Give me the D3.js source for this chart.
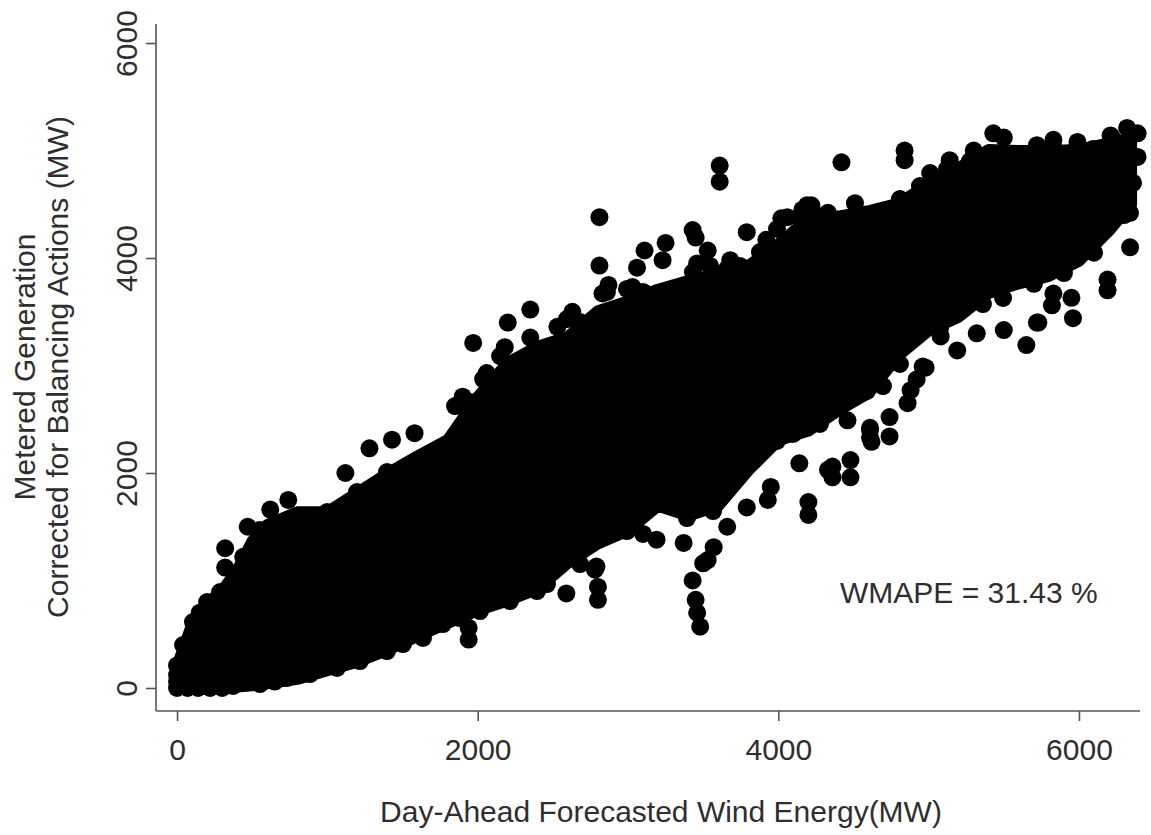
<!DOCTYPE html>
<html>
<head>
<meta charset="utf-8">
<script src="https://cdn.jsdelivr.net/npm/d3@7"></script>
<style>
  html, body { margin: 0; padding: 0; background: #fff; }
  svg { display: block; }
  text { font-family: "Liberation Sans", Arial, sans-serif; fill: #2e2e2e; }
</style>
</head>
<body>
<svg id="chart" width="1151" height="835"></svg>
<script>
// Forecast (x) vs metered generation (y), MW.
// Dense core of the cloud: per-forecast-bin lower/upper bounds of metered values.
const binForecast = [0, 100, 200, 300, 400, 500, 600, 800, 1000, 1200, 1400, 1600, 1800, 2000, 2200, 2400, 2600, 2800, 3000, 3200, 3400, 3600, 3800, 4000, 4200, 4400, 4600, 4800, 5000, 5200, 5400, 5600, 5800, 6000, 6200, 6350];
const binUpper = [210, 600, 790, 910, 1100, 1370, 1520, 1640, 1640, 1820, 2000, 2160, 2310, 2710, 3030, 3180, 3270, 3510, 3600, 3710, 3790, 3860, 3930, 4130, 4370, 4390, 4440, 4510, 4690, 4840, 5010, 5000, 5000, 5010, 5070, 5080];
const binLower = [0, 0, 0, 0, 10, 20, 40, 80, 160, 240, 350, 480, 600, 720, 810, 920, 1160, 1340, 1460, 1690, 1600, 1690, 2020, 2300, 2390, 2580, 2740, 3090, 3320, 3450, 3670, 3760, 3830, 3970, 4250, 4500];

// Observations along the top rim of the core, [forecast, metered].
const rimUpper = [
  [0, 120], [0, 210], [40, 400], [106, 614], [150, 700], [200, 800], [286, 893],
  [552, 1470], [865, 1600], [998, 1637],
  [1197, 1823], [1397, 2009], [1616, 2102], [1750, 2223], [1849, 2623],
  [1949, 2660], [2036, 2874], [2149, 3088], [2514, 3126], [2681, 3405],
  [2594, 3432], [2701, 3312], [2860, 3684], [2993, 3712], [3100, 3684],
  [3299, 3618], [3432, 3870], [3546, 3926], [3659, 3898], [3745, 3926],
  [3878, 4056], [3991, 4270], [4144, 4363], [4231, 4428], [4477, 4242],
  [4676, 4391], [4809, 4549], [4942, 4670], [5122, 4828], [5275, 4902],
  [5561, 4949], [5827, 5042], [5960, 4986], [6093, 5014], [6226, 5107],
  [6339, 5135]
];
// Observations along the bottom rim of the core.
const rimLower = [
  [0, 0], [0, 60], [70, 0], [140, 0], [220, 0], [300, 0], [373, 19], [552, 37],
  [650, 60], [732, 93], [885, 130], [1064, 186],
  [1217, 251], [1397, 344], [1503, 409], [1636, 465], [1769, 595],
  [1882, 651], [2016, 716], [2215, 809], [2395, 902], [2461, 967],
  [2681, 1153], [2860, 1433], [2993, 1460], [3100, 1433], [3259, 1712],
  [3392, 1581], [3566, 1646], [3699, 1926], [3878, 2270], [3991, 2298],
  [4098, 2363], [4277, 2456], [4430, 2642], [4590, 2763], [4696, 2809],
  [4809, 3014], [4829, 3200], [5076, 3349], [5122, 3507], [5361, 3572],
  [5495, 3628], [5700, 3760], [5900, 3860], [6100, 4050], [6300, 4400]
];

// Individual observations well above the core.
const pointsAbove = [
  [320, 1300], [320, 1120], [440, 1220], [470, 1500], [620, 1660], [740, 1750],
  [1120, 2000], [1280, 2230], [1430, 2310], [1580, 2370],
  [1900, 2710], [1970, 3210], [2060, 2930], [2180, 3170], [2200, 3400],
  [2350, 3520], [2350, 3260], [2530, 3360], [2630, 3500], [2730, 3390],
  [2810, 4380], [2810, 3930], [2870, 3750], [2830, 3670], [3030, 3730],
  [3060, 3910], [3110, 4070], [3250, 4140], [3230, 3980], [3280, 3700],
  [3430, 4260], [3450, 4190], [3530, 4070], [3460, 3950], [3680, 3980],
  [3610, 4860], [3610, 4710], [3790, 4240], [3920, 4170], [4020, 4370],
  [4060, 4380], [4160, 4450], [4190, 4490], [4220, 4490], [4330, 4420],
  [4420, 4890], [4510, 4510], [4840, 5000], [4840, 4910],
  [5010, 4790], [5140, 4910], [5300, 5000], [5430, 5160], [5500, 5120],
  [5720, 5050], [5830, 5100], [5990, 5080], [6210, 5140], [6320, 5210],
  [6390, 5160], [6390, 4940], [6360, 4700], [6340, 4420], [6340, 4100]
];
// Individual observations well below the core.
const pointsBelow = [
  [1940, 560], [1940, 450],
  [2590, 880], [2780, 1100], [2790, 1130], [2800, 940], [2800, 820],
  [3190, 1380], [3370, 1350], [3430, 1000], [3450, 820], [3460, 700],
  [3480, 570], [3500, 1160], [3530, 1190], [3570, 1310], [3660, 1500],
  [3790, 1680], [3930, 1750], [3950, 1870], [4140, 2090], [4200, 1730],
  [4200, 1610], [4330, 2030], [4360, 2060], [4360, 1960], [4460, 2490],
  [4480, 2120], [4480, 1960], [4610, 2400], [4610, 2420], [4610, 2330],
  [4620, 2290], [4740, 2520], [4740, 2340], [4860, 2650], [4880, 2770],
  [4920, 2870], [4960, 2990], [4980, 2980], [5080, 3270], [5190, 3140],
  [5320, 3300], [5500, 3330], [5650, 3190], [5720, 3400], [5730, 3400],
  [5820, 3560], [5830, 3670], [5950, 3630], [5960, 3440], [6190, 3800],
  [6190, 3700]
];

const xTicks = [0, 2000, 4000, 6000];
const yTicks = [0, 2000, 4000, 6000];
const xTitle = "Day-Ahead Forecasted Wind Energy(MW)";
const yTitleLines = ["Metered Generation", "Corrected for Balancing Actions (MW)"];
const note = "WMAPE = 31.43 %";

const svg = d3.select("#chart");
const plotLeft = 156, plotRight = 1140, plotTop = 24, plotBottom = 711;
const dotR = 9;

const x = d3.scaleLinear().domain([-140, 6406]).range([plotLeft, plotRight]);
const y = d3.scaleLinear().domain([-214, 6177]).range([plotBottom, plotTop]);

// core band: filled area with a thick stroke so its rim sits just inside
// the outer edges of the rim dots, leaving their bumps visible
const band = binForecast.map((f, i) => ({ f, lo: binLower[i], hi: binUpper[i] }));
const area = d3.area()
  .x(d => x(d.f))
  .y0(d => y(d.lo))
  .y1(d => y(d.hi));

svg.append("path")
  .datum(band)
  .attr("d", area)
  .attr("fill", "#000")
  .attr("stroke", "#000")
  .attr("stroke-width", 11)
  .attr("stroke-linejoin", "round");

svg.append("g")
  .selectAll("circle")
  .data([].concat(rimUpper, rimLower, pointsAbove, pointsBelow))
  .join("circle")
  .attr("cx", d => x(d[0]))
  .attr("cy", d => y(d[1]))
  .attr("r", dotR)
  .attr("fill", "#000");

// axes
const axisColor = "#555";
const xAxis = svg.append("g")
  .attr("transform", `translate(0,${plotBottom})`)
  .call(d3.axisBottom(x).tickValues(xTicks).tickSize(10).tickPadding(14).tickFormat(d3.format("d")));
const yAxis = svg.append("g")
  .attr("transform", `translate(${plotLeft},0)`)
  .call(d3.axisLeft(y).tickValues(yTicks).tickSize(10).tickFormat(d3.format("d")));

[xAxis, yAxis].forEach(g => {
  g.select(".domain").remove();
  g.selectAll(".tick line").attr("stroke", axisColor).attr("stroke-width", 1.6);
  g.selectAll(".tick text").attr("font-size", 30).attr("fill", "#2e2e2e")
    .style("font-family", "'Liberation Sans', Arial, sans-serif");
});

xAxis.selectAll(".tick text").attr("dy", null).attr("y", 49);

yAxis.selectAll(".tick text")
  .attr("x", null).attr("dy", null).attr("y", null)
  .attr("text-anchor", "middle")
  .attr("transform", "translate(-19,0) rotate(-90)");

svg.append("line")
  .attr("x1", plotLeft).attr("x2", plotRight).attr("y1", plotBottom).attr("y2", plotBottom)
  .attr("stroke", axisColor).attr("stroke-width", 1.6);
svg.append("line")
  .attr("x1", plotLeft).attr("x2", plotLeft).attr("y1", plotTop).attr("y2", plotBottom)
  .attr("stroke", axisColor).attr("stroke-width", 1.6);

// titles
svg.append("text")
  .attr("x", 661).attr("y", 822)
  .attr("text-anchor", "middle")
  .attr("font-size", 30)
  .text(xTitle);

const yTitle = svg.append("text")
  .attr("transform", "translate(0,367) rotate(-90)")
  .attr("text-anchor", "middle")
  .attr("font-size", 30);
yTitle.selectAll("tspan")
  .data(yTitleLines)
  .join("tspan")
  .attr("x", 0)
  .attr("y", (d, i) => 35 + i * 33)
  .text(d => d);

svg.append("text")
  .attr("x", 840).attr("y", 603)
  .attr("font-size", 30)
  .text(note);
</script>
</body>
</html>
